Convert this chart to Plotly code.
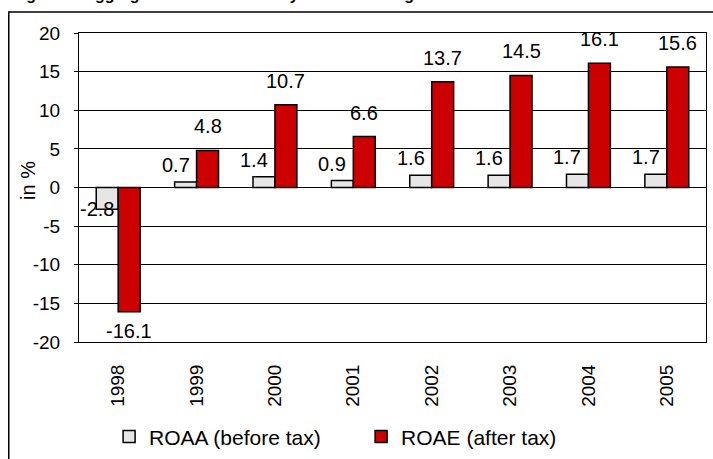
import plotly.graph_objects as go

years = ["1998", "1999", "2000", "2001", "2002", "2003", "2004", "2005"]
roaa = [-2.8, 0.7, 1.4, 0.9, 1.6, 1.6, 1.7, 1.7]
roae = [-16.1, 4.8, 10.7, 6.6, 13.7, 14.5, 16.1, 15.6]
series_names = ["ROAA (before tax)", "ROAE (after tax)"]
y_ticks = [20, 15, 10, 5, 0, -5, -10, -15, -20]
y_title = "in %"
title_text = "Figure 4: Aggregate Bank Profitability of the Banking Sector"

FONT = "Arial, Liberation Sans, sans-serif"
LABEL_SIZE = 20

fig = go.Figure()
fig.add_trace(go.Bar(
    x=years, y=roaa, name=series_names[0],
    marker=dict(color="#e6e6e6", line=dict(color="black", width=1.5)),
))
fig.add_trace(go.Bar(
    x=years, y=roae, name=series_names[1],
    marker=dict(color="#cc0000", line=dict(color="black", width=1.5)),
))

annotations = []
# data labels: grey series nudged left of its bar, red series centred on its bar
for values, xshift, pos_shift, is_grey in [(roaa, -21, 4, True), (roae, 11, 11, False)]:
    for i, v in enumerate(values):
        if v >= 0:
            ya, ys = "bottom", pos_shift
        elif is_grey:
            ya, ys = "middle", 0
        else:
            ya, ys = "top", -6
        annotations.append(dict(
            x=i, y=v, xref="x", yref="y", text=f"{v:.1f}", showarrow=False,
            xshift=xshift, yshift=ys, yanchor=ya, xanchor="center",
            font=dict(size=LABEL_SIZE, color="black", family=FONT)))

annotations.append(dict(text=y_title, xref="paper", yref="paper", textangle=-90,
                        x=-0.0815, y=0.524, xanchor="center", yanchor="middle",
                        showarrow=False, font=dict(size=20, family=FONT)))
annotations.append(dict(text=f"<b>{title_text}</b>", xref="paper", yref="paper",
                        x=-0.11, xanchor="left", y=1.09, yanchor="bottom",
                        showarrow=False, font=dict(size=16, family=FONT)))

n = len(years)
fig.update_layout(
    width=713, height=459,
    margin=dict(l=79, r=7, t=33, b=117, autoexpand=False),
    paper_bgcolor="white", plot_bgcolor="white",
    font=dict(family=FONT, size=19, color="black"),
    barmode="group", bargap=0.44, bargroupgap=0.0,
    showlegend=True,
    legend=dict(orientation="h", x=0.048, xanchor="left", y=-0.307, yanchor="middle",
                font=dict(size=21), itemwidth=30, entrywidth=207, tracegroupgap=0),
    xaxis=dict(type="category", categoryorder="array", categoryarray=years,
               range=[-0.5, n - 0.5], automargin=False,
               showline=True, linecolor="black", linewidth=1, mirror=True,
               ticks="", tickangle=-90, ticklabelstandoff=14,
               tickfont=dict(size=19), showgrid=False),
    xaxis2=dict(overlaying="x", anchor="free", position=0.5,
                range=[-0.5, n - 0.5],
                tickvals=[i + 0.5 for i in range(n - 1)],
                showticklabels=False, ticks="outside", ticklen=5,
                tickcolor="#707070", tickwidth=1.5,
                showline=True, linecolor="#808080", linewidth=1.5,
                showgrid=False, zeroline=False),
    yaxis=dict(range=[-20, 20], tickvals=y_ticks, ticktext=[str(v) for v in y_ticks],
               automargin=False,
               showgrid=True, gridcolor="black", gridwidth=1,
               showline=True, linecolor="black", linewidth=1, mirror=True,
               ticks="outside", ticklen=4, tickcolor="black",
               zeroline=False, ticklabelstandoff=10,
               tickfont=dict(size=19)),
    shapes=[dict(type="rect", xref="paper", yref="paper",
                 x0=-0.112, x1=1.05, y0=-0.6, y1=1.068,
                 line=dict(color="black", width=1.5), fillcolor="rgba(0,0,0,0)",
                 layer="below")],
    annotations=annotations,
)

fig.write_html("out.html", config={"displayModeBar": False},
               post_script="document.body.style.margin='0px';")
